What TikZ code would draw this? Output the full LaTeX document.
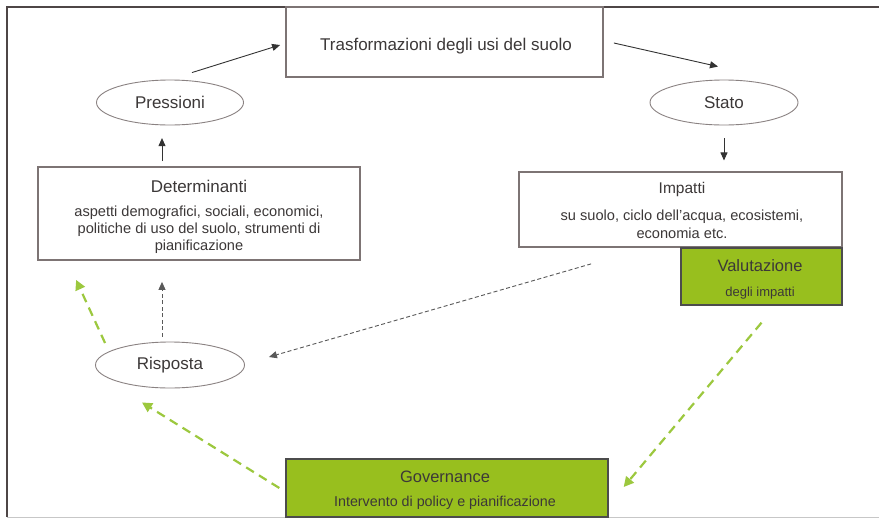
\documentclass[tikz,border=0pt]{standalone}
\usepackage{fontspec}
\setmainfont{Liberation Sans}
\usetikzlibrary{shapes.geometric,arrows.meta,calc}
\definecolor{txt}{HTML}{3C3838}
\definecolor{bord}{HTML}{7D7474}
\definecolor{gfill}{HTML}{98BF1E}
\definecolor{gline}{HTML}{9CC83E}
\definecolor{frame}{HTML}{4E4646}
\tikzset{
  hfont/.style={font=\fontsize{17}{20}\selectfont},
  bfont/.style={font=\fontsize{14.6}{17}\selectfont},
  box/.style={draw=bord, line width=1.8pt, fill=white, inner sep=0pt},
  gbox/.style={draw=black!70, line width=1.4pt, fill=gfill, inner sep=0pt},
  oval/.style={ellipse, draw=bord!90, line width=0.9pt, inner sep=0pt, text=txt, hfont},
  lbl/.style={text=txt, inner sep=0pt},
  arr/.style={-{Triangle[length=8pt,width=7pt]}, line width=0.9pt, draw=black!80},
  darr/.style={arr, dashed, dash pattern=on 4pt off 2.5pt, draw=black!65},
  garr/.style={-{Triangle[length=10pt,width=10pt]}, draw=gline, line width=2.2pt, dash pattern=on 9pt off 6pt}
}
\begin{document}
\begin{tikzpicture}[x=1pt,y=-1pt]
\useasboundingbox (0,0) rectangle (879,520);
\fill[white] (0,0) rectangle (879,520);
% frame
\draw[frame, line width=2.4pt] (6,7) -- (879,7);
\draw[frame, line width=2.4pt] (7,6) -- (7,517);
\draw[black!22, line width=1.5pt] (7,517.5) -- (879,517.5);

% boxes
\node[box, minimum width=317pt, minimum height=70pt] (top) at (444.5,42) {};
\node[lbl, hfont] (toptxt) at (446,46) {Trasformazioni degli usi del suolo};

\node[box, minimum width=322pt, minimum height=93pt] (det) at (199,213.5) {};
\node[lbl, hfont] (dett) at (199,186) {Determinanti};
\node[lbl, bfont] (det1) at (199,213) {aspetti demografici, sociali, economici,};
\node[lbl, bfont] (det2) at (199,230) {politiche di uso del suolo, strumenti di};
\node[lbl, bfont] (det3) at (199,247) {pianificazione};

\node[box, minimum width=323pt, minimum height=75pt] (imp) at (680.5,209.5) {};
\node[lbl, font=\fontsize{15.5}{18}\selectfont] (impt) at (682,189) {Impatti};
\node[lbl, bfont] (imp1) at (682,217) {su suolo, ciclo dell'acqua, ecosistemi,};
\node[lbl, bfont] (imp2) at (682,233) {economia etc.};

\node[gbox, minimum width=161pt, minimum height=57pt] (val) at (761.5,276.5) {};
\node[lbl, font=\fontsize{16.5}{19}\selectfont] (valt) at (760,266) {Valutazione};
\node[lbl, font=\fontsize{13}{15}\selectfont] (val2) at (760,293) {degli impatti};

\node[gbox, minimum width=322pt, minimum height=58pt] (gov) at (447,488) {};
\node[lbl, font=\fontsize{16.5}{19}\selectfont] (govt) at (445,477) {Governance};
\node[lbl, font=\fontsize{14.3}{17}\selectfont] (gov2) at (445,503) {Intervento di policy e pianificazione};

% ellipses
\node[oval, minimum width=147pt, minimum height=45pt] (pres) at (170,102.5) {Pressioni};
\node[oval, minimum width=148pt, minimum height=45pt] (stato) at (724,102.5) {Stato};
\node[oval, minimum width=149pt, minimum height=46pt] (risp) at (170,365) {Risposta};

% black arrows
\draw[arr] ($(pres.north)+(22,-7)$) -- ($(top.west)+(-5,3)$);
\draw[arr] ($(top.east)+(10,1)$) -- ($(stato.north)+(-6,-13)$);
\draw[arr] ($(stato.south)+(0,13)$) -- ($(stato.south)+(0,35)$);
\draw[arr] ($(det.north)+(-37,-5)$) -- ($(det.north)+(-37,-28)$);

% dashed black arrows
\draw[darr] ($(imp.south west)+(73,16)$) -- ($(risp.east)+(24,-8)$);
\draw[darr] ($(risp.north)+(-8,-5)$) -- ($(det.south)+(-37,21)$);

% green dashed arrows
\draw[garr] ($(risp.west)+(10,-22)$) -- ($(det.south west)+(39,19)$);
\draw[garr] ($(gov.west)+(-6,0)$) -- ($(risp.south)+(-28,14)$);
\draw[garr] ($(val.south)+(0,17)$) -- ($(gov.east)+(15,-1)$);
\end{tikzpicture}
\end{document}
